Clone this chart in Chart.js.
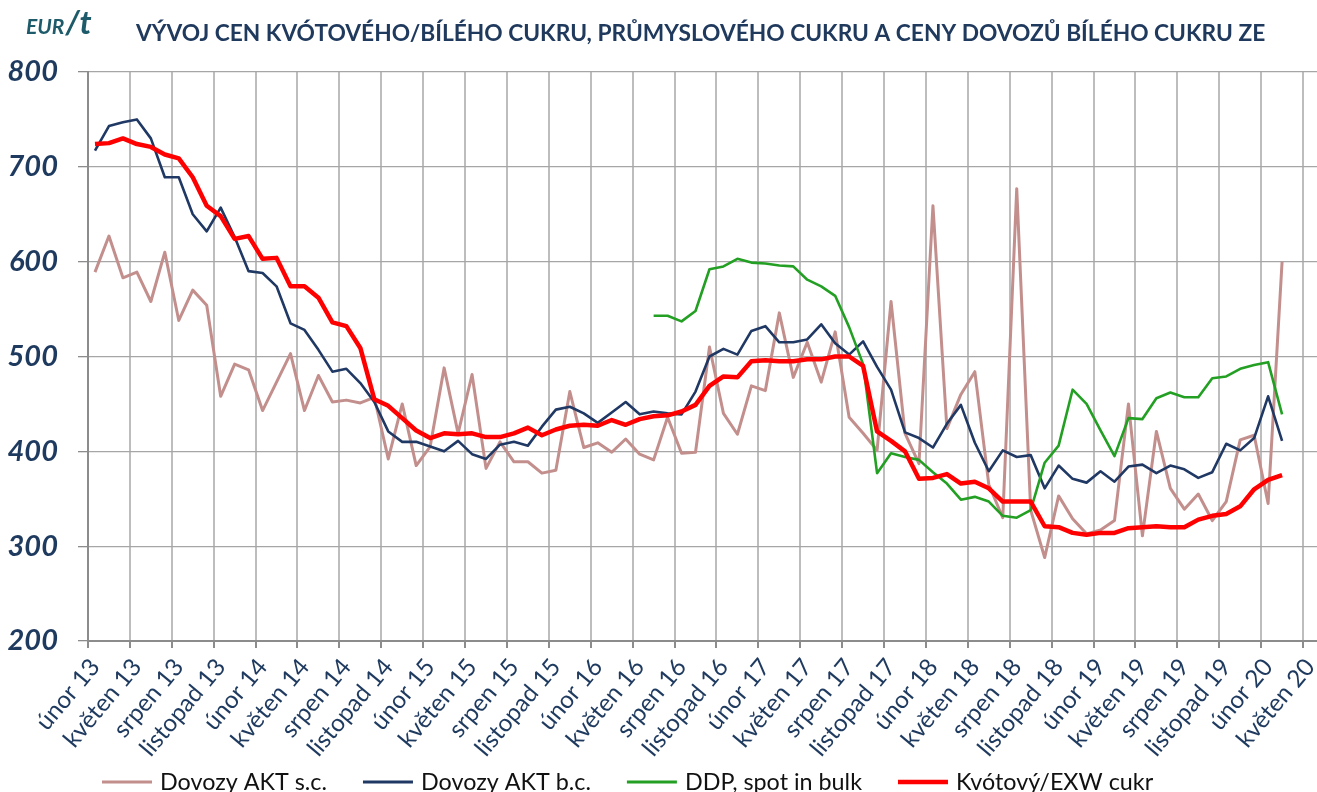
<!DOCTYPE html>
<html><head><meta charset="utf-8">
<script src="https://cdn.jsdelivr.net/npm/chart.js@4.4.1/dist/chart.umd.min.js"></script>
<style>html,body{margin:0;padding:0;background:#fff}#wrap{width:1317px;height:792px;position:relative}</style>
</head><body><div id="wrap"><canvas id="c"></canvas></div>
<script>
// ---- data ----
const monthNames = ['leden','únor','březen','duben','květen','červen','červenec','srpen','září','říjen','listopad','prosinec'];
const years = [13,14,15,16,17,18,19,20];
const seriesNames = ['Dovozy AKT s.c.','Dovozy AKT b.c.','DDP, spot in bulk','Kvótový/EXW cukr'];
const titleText = 'VÝVOJ CEN KVÓTOVÉHO/BÍLÉHO CUKRU, PRŮMYSLOVÉHO CUKRU A CENY DOVOZŮ BÍLÉHO CUKRU ZE';
const yTicks = [200,300,400,500,600,700,800];

const aktSC = [589,627,583,589,558,610,538,570,554,458,492,486,443,473,503,443,480,452,454,451,
  457,392,450,385,405,488,419,481,382,410,389,389,377,380,463,404,409,399,413,397,
  391,436,398,399,510,440,418,469,464,546,478,515,473,526,436,419,401,558,419,387,
  659,424,460,484,365,330,677,338,288,353,329,313,317,327,450,311,421,361,339,355,
  327,347,412,417,345,600];
const aktBC = [717,743,747,750,730,689,689,650,632,657,626,590,588,574,535,528,507,484,487,472,
  452,421,410,410,405,400,411,397,392,407,410,406,426,444,447,440,430,441,452,439,
  442,440,439,463,500,508,502,527,532,515,515,518,534,514,502,516,489,465,420,414,
  404,429,449,409,379,401,394,396,361,385,371,367,379,368,384,386,377,385,381,372,
  378,408,401,414,458,411];
const ddp = [null,null,null,null,null,null,null,null,null,null,null,null,null,null,null,null,null,null,null,null,
  null,null,null,null,null,null,null,null,null,null,null,null,null,null,null,null,null,null,null,null,
  543,543,537,548,592,595,603,599,598,596,595,581,574,564,531,492,377,398,394,391,
  378,366,349,352,347,332,330,338,388,406,465,450,422,395,435,434,456,462,457,457,
  477,479,487,491,494,439];
const kvota = [724,725,730,724,721,713,709,689,659,648,624,627,603,604,574,574,562,536,532,509,
  455,448,435,422,414,419,418,419,415,415,419,425,417,423,427,428,427,433,428,434,
  437,438,442,449,469,479,478,495,496,495,495,497,497,500,500,490,421,411,400,371,
  372,376,366,368,361,347,347,347,321,320,314,312,314,314,319,320,321,320,320,328,
  332,334,342,360,370,375];

// categories: monthly from únor 13 to květen 20
const categories = [];
for (let i = 0; i < 88; i++) {
  const m = (1 + i) % 12;
  const y = years[Math.floor((1 + i) / 12)];
  categories.push(monthNames[m] + ' ' + y);
}

const FAM = 'Lato, "Open Sans", sans-serif';
const mctx = document.createElement('canvas').getContext('2d');
function fit(text, weight, style, target) {
  mctx.font = `${style} ${weight} 100px ${FAM}`;
  return 100 * target / mctx.measureText(text).width;
}
const titleSize = fit(titleText, 'bold', 'normal', 1130);
const legendSize = fit(seriesNames[0], 'normal', 'normal', 167);
const xTickSize = fit('listopad 13', 'normal', 'normal', 118);

const NAVY = '#1F3A5F';

const decor = {
  id: 'decor',
  afterDraw(chart) {
    const ctx = chart.ctx;
    ctx.save();
    // title
    ctx.fillStyle = '#203A5E';
    ctx.font = `bold ${titleSize}px ${FAM}`;
    ctx.textBaseline = 'alphabetic';
    ctx.textAlign = 'left';
    ctx.fillText(titleText, 136, 41);
    // unit
    ctx.fillStyle = '#1E5B6A';
    ctx.font = `italic bold 21px ${FAM}`;
    ctx.fillText('EUR', 26, 34);
    const w = ctx.measureText('EUR').width;
    ctx.font = `italic bold 33px ${FAM}`;
    ctx.fillText('/t', 26 + w + 1, 34);
    // legend
    let x = 102;
    ctx.font = `${legendSize}px ${FAM}`;
    chart.data.datasets.forEach(ds => {
      ctx.strokeStyle = ds.borderColor;
      ctx.lineWidth = ds.legendWidth;
      ctx.beginPath();
      ctx.moveTo(x, 782); ctx.lineTo(x + 50, 782);
      ctx.stroke();
      ctx.fillStyle = '#111';
      ctx.fillText(ds.label, x + 58, 790);
      x += 58 + ctx.measureText(ds.label).width + 36;
    });
    ctx.restore();
  }
};

new Chart(document.getElementById('c'), {
  type: 'line',
  data: {
    labels: categories,
    datasets: [
      { label: seriesNames[0], data: aktSC, borderColor: '#C28F8D', borderWidth: 3, legendWidth: 3, order: 3 },
      { label: seriesNames[1], data: aktBC, borderColor: '#203864', borderWidth: 2.6, legendWidth: 3, order: 2 },
      { label: seriesNames[2], data: ddp, borderColor: '#23A023', borderWidth: 2.6, legendWidth: 3, order: 1 },
      { label: seriesNames[3], data: kvota, borderColor: '#FF0000', borderWidth: 4.5, legendWidth: 4.5, order: 0 }
    ].map(d => Object.assign({ pointRadius: 0, pointHoverRadius: 0, fill: false, tension: 0, spanGaps: false, backgroundColor: d.borderColor, borderJoinStyle: 'round' }, d))
  },
  options: {
    responsive: true,
    maintainAspectRatio: false,
    animation: false,
    devicePixelRatio: 1,
    layout: { padding: { top: 72, left: 0, right: 0, bottom: 0 } },
    plugins: { legend: { display: false }, title: { display: false }, tooltip: { enabled: false } },
    scales: {
      x: {
        type: 'category',
        offset: true,
        afterFit(s) { s.height = 151; s.paddingLeft = 0; s.paddingRight = 0; },
        grid: {
          offset: true,
          color: c => (c.type === 'tick' && c.index % 3 === 0) ? '#BDBDBD' : 'rgba(0,0,0,0)',
          tickColor: c => (c.type === 'tick' && c.index % 3 === 0) ? '#8C8C8C' : 'rgba(0,0,0,0)',
          lineWidth: 2,
          tickLength: 7,
          drawTicks: true
        },
        border: { display: true, color: '#8C8C8C', width: 2 },
        ticks: {
          autoSkip: false,
          minRotation: 50,
          maxRotation: 50,
          padding: 5,
          color: NAVY,
          font: { family: FAM, size: xTickSize },
          callback(v, i) { return i % 3 === 0 ? this.getLabelForValue(v) : ''; }
        }
      },
      y: {
        min: yTicks[0],
        max: yTicks[yTicks.length - 1],
        afterFit(s) { s.width = 88; s.paddingTop = 0; s.paddingBottom = 0; },
        afterBuildTicks(s) { s.ticks = yTicks.map(v => ({ value: v })); },
        grid: { color: '#A6A6A6', lineWidth: 1.3, tickLength: 10, tickColor: '#8C8C8C' },
        border: { display: true, color: '#8C8C8C', width: 2 },
        ticks: {
          padding: 20,
          color: NAVY,
          font: { family: FAM, size: 29, weight: 'bold', style: 'italic' }
        }
      }
    }
  },
  plugins: [decor]
});
</script>
</body></html>
